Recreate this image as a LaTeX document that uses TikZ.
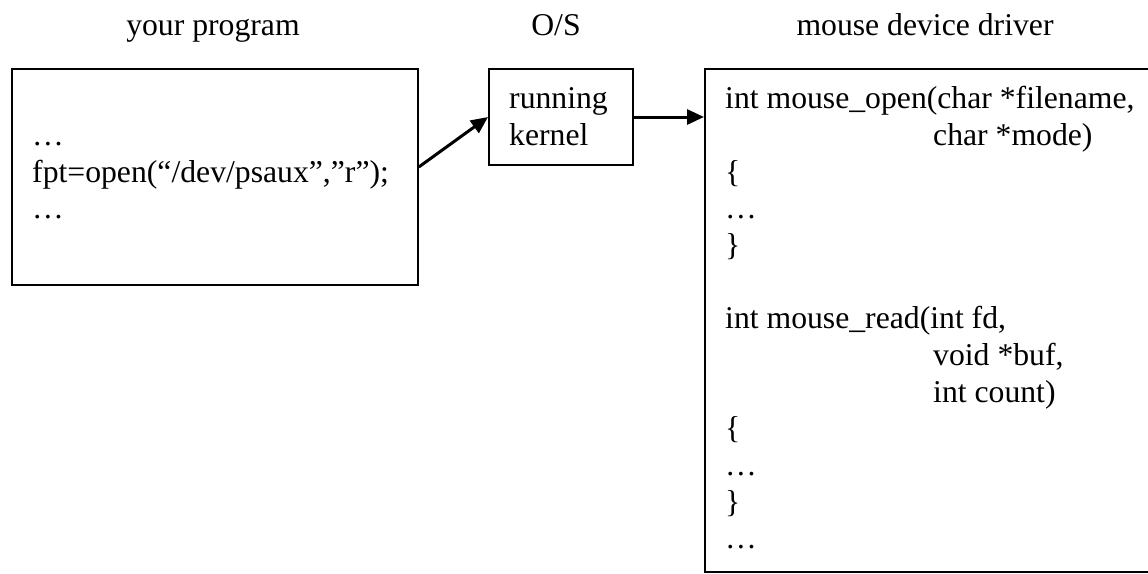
\documentclass[tikz,border=0pt]{standalone}
\usepackage{fontspec}
\setmainfont{Liberation Serif}
\usetikzlibrary{arrows.meta}
\begin{document}
\begin{tikzpicture}[x=1pt,y=-1pt,
  box/.style={draw,line width=1.8pt,inner sep=0pt,anchor=north west},
  txt/.style={anchor=base west,inner sep=0pt,font=\fontsize{31.7}{36.7}\selectfont},
  title/.style={anchor=base,inner sep=0pt,font=\fontsize{31.7}{36.7}\selectfont},
  conn/.style={line width=3pt,-{Triangle[length=17pt,width=15pt]}}]
\useasboundingbox (0,0) rectangle (1148,573);
\clip (0,0) rectangle (1148,573);
% titles
\node[title] (t1) at (213,35) {your program};
\node[title] (t2) at (556,35) {O/S};
\node[title] (t3) at (925,35) {mouse device driver};
% boxes
\node[box,minimum width=406pt,minimum height=216pt] (prog) at (11,68) {};
\node[box,minimum width=144pt,minimum height=96pt] (kern) at (488,68) {};
\node[box,minimum width=470pt,minimum height=503pt] (drv) at (704,68) {};
% program text
\node[txt] (p1) at (32,145) {…};
\node[txt] (p2) at (32,182) {fpt=open(“/dev/psaux”,”r”);};
\node[txt] (p3) at (32,218) {…};
% kernel text
\node[txt] (k1) at (509,108) {running};
\node[txt] (k2) at (509,145) {kernel};
% driver text
\node[txt] (d1) at (725,108) {int mouse\_open(char *filename,};
\node[txt] (d2) at (933,145) {char *mode)};
\node[txt] (d3) at (725,182) {\{};
\node[txt] (d4) at (725,218) {…};
\node[txt] (d5) at (725,255) {\}};
\node[txt] (d6) at (725,328) {int mouse\_read(int fd,};
\node[txt] (d7) at (933,365) {void *buf,};
\node[txt] (d8) at (933,402) {int count)};
\node[txt] (d9) at (725,438) {\{};
\node[txt] (d10) at (725,475) {…};
\node[txt] (d11) at (725,512) {\}};
\node[txt] (d12) at (725,548) {…};
% connectors
\coordinate (a1s) at (prog.east |- 0,167);
\coordinate (a1e) at (kern.west |- 0,117);
\draw[conn] (a1s) -- (a1e);
\coordinate (a2s) at (kern.east |- 0,117);
\coordinate (a2e) at (drv.west |- 0,117);
\draw[conn] (a2s) -- (a2e);
\end{tikzpicture}
\end{document}
